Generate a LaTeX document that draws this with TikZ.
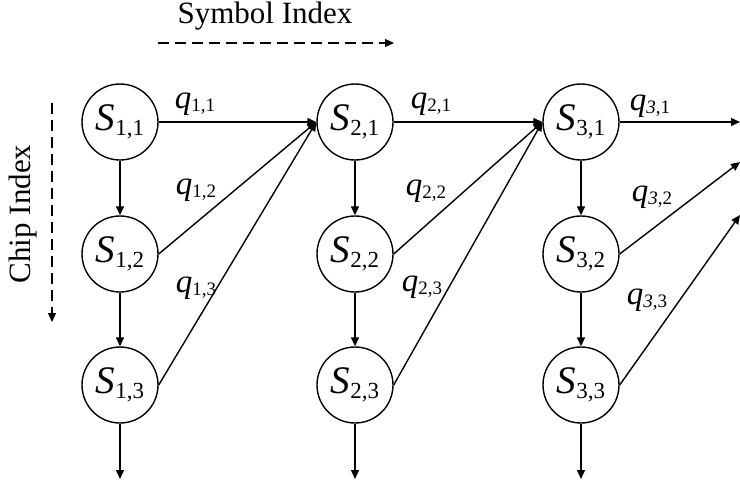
\documentclass[tikz,border=0pt]{standalone}
\usepackage{fontspec}
\setmainfont{Liberation Serif}
\usetikzlibrary{arrows.meta}
\newcommand\Sname[1]{{\fontsize{39}{39}\selectfont\textit{S}}{\fontsize{23}{23}\selectfont\raisebox{-5pt}{#1}}}
\newcommand\qname[1]{{\fontsize{33}{33}\selectfont\textit{q}}{\fontsize{19}{19}\selectfont\raisebox{-3pt}{#1}}}
\tikzset{
  state/.style={draw, circle, line width=1.4pt, minimum size=76pt, inner sep=0pt},
  link/.style={line width=1.4pt, -{Triangle[length=9pt,width=8pt]}},
  dlink/.style={line width=1.4pt, dash pattern=on 11pt off 6pt, -{Triangle[length=9pt,width=8pt]}},
  qlabel/.style={inner sep=0pt},
  title/.style={font=\fontsize{31}{31}\selectfont, inner sep=0pt}
}
\begin{document}
\begin{tikzpicture}[x=1pt,y=-1pt]
\useasboundingbox (0,0) rectangle (740,485);
% states
\node[state] (S11) at (120,122) {\Sname{1,1}};
\node[state] (S12) at (120,254) {\Sname{1,2}};
\node[state] (S13) at (120,385) {\Sname{1,3}};
\node[state] (S21) at (355,122) {\Sname{2,1}};
\node[state] (S22) at (355,254) {\Sname{2,2}};
\node[state] (S23) at (355,385) {\Sname{2,3}};
\node[state] (S31) at (581,122) {\Sname{3,1}};
\node[state] (S32) at (581,254) {\Sname{3,2}};
\node[state] (S33) at (581,385) {\Sname{3,3}};
% free ends
\coordinate (B1) at (120,479);
\coordinate (B2) at (355,479);
\coordinate (B3) at (581,479);
\coordinate (E1) at (740,122);
\coordinate (E2) at (740,162);
\coordinate (E3) at (740,215);
% vertical arrows
\draw[link] (S11) -- (S12);
\draw[link] (S12) -- (S13);
\draw[link] (S13) -- (B1);
\draw[link] (S21) -- (S22);
\draw[link] (S22) -- (S23);
\draw[link] (S23) -- (B2);
\draw[link] (S31) -- (S32);
\draw[link] (S32) -- (S33);
\draw[link] (S33) -- (B3);
% transitions
\draw[link] (S11.east) -- (S21.west);
\draw[link] (S12.east) -- (S21.west);
\draw[link] (S13.east) -- (S21.west);
\draw[link] (S21.east) -- (S31.west);
\draw[link] (S22.east) -- (S31.west);
\draw[link] (S23.east) -- (S31.west);
\draw[link] (S31.east) -- (E1);
\draw[link] (S32.east) -- (E2);
\draw[link] (S33.east) -- (E3);
% labels
\node[qlabel] (q11) at (195,104) {\qname{1,1}};
\node[qlabel] (q12) at (196,190) {\qname{1,2}};
\node[qlabel] (q13) at (196,288) {\qname{1,3}};
\node[qlabel] (q21) at (431,104) {\qname{2,1}};
\node[qlabel] (q22) at (426,191) {\qname{2,2}};
\node[qlabel] (q23) at (422,287) {\qname{2,3}};
\node[qlabel] (q31) at (650,106) {\qname{\textit{3},1}};
\node[qlabel] (q32) at (652,197) {\qname{\textit{3},2}};
\node[qlabel] (q33) at (647,300) {\qname{\textit{3},3}};
% index arrows
\node[title] (sym) at (265,16) {Symbol Index};
\coordinate (SA) at (158,43);
\coordinate (SB) at (394,43);
\draw[dlink] (SA) -- (SB);
\node[title, rotate=90] (chip) at (23,214) {Chip Index};
\coordinate (CA) at (52,103);
\coordinate (CB) at (52,322);
\draw[dlink] (CA) -- (CB);
\end{tikzpicture}
\end{document}
